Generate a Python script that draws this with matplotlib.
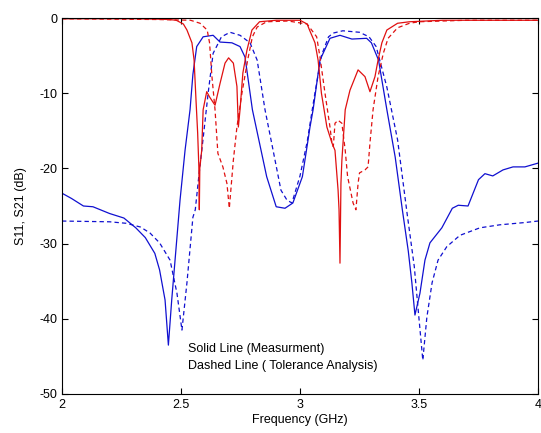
import matplotlib
matplotlib.use("Agg")
import matplotlib.pyplot as plt

plt.rcParams['font.family'] = ['Liberation Sans', 'DejaVu Sans']
plt.rcParams['axes.unicode_minus'] = False

# S21 measured (blue solid)
s21_meas_f = [2.00, 2.04, 2.09, 2.13, 2.20, 2.26, 2.31, 2.35, 2.39, 2.41, 2.433, 2.447,
              2.461, 2.475, 2.496, 2.517, 2.538, 2.55, 2.566, 2.593, 2.635, 2.664, 2.714,
              2.748, 2.769, 2.80, 2.86, 2.90, 2.937, 2.97, 3.01, 3.03, 3.042, 3.055, 3.084,
              3.126, 3.168, 3.218, 3.28, 3.30, 3.33, 3.365, 3.40, 3.43, 3.455, 3.47, 3.483,
              3.504, 3.525, 3.546, 3.596, 3.64, 3.665, 3.706, 3.75, 3.777, 3.81, 3.853,
              3.895, 3.945, 4.00]
s21_meas_db = [-23.3, -24.0, -25.0, -25.1, -26.0, -26.6, -27.9, -29.2, -31.3, -33.5, -37.5, -43.5,
               -37.5, -32.2, -24.2, -17.6, -12.2, -7.5, -3.8, -2.5, -2.3, -3.2, -3.3,
               -3.8, -5.2, -12.2, -21.1, -25.1, -25.3, -24.6, -21.1, -17.0, -14.5, -12.2, -5.6,
               -2.7, -2.3, -2.8, -2.7, -3.3, -5.6, -12.2, -18.5, -25.5, -31.0, -35.2, -39.5,
               -36.6, -32.2, -29.9, -27.9, -25.3, -24.9, -25.0, -21.5, -20.7, -21.0, -20.2,
               -19.8, -19.8, -19.3]

# S21 tolerance analysis (blue dashed)
s21_sim_f = [2.00, 2.20, 2.27, 2.33, 2.37, 2.41, 2.454, 2.483, 2.504, 2.525, 2.55, 2.56,
             2.575, 2.593, 2.614, 2.635, 2.67, 2.706, 2.748, 2.79, 2.82, 2.853, 2.887, 2.92,
             2.945, 2.966, 3.00, 3.03, 3.06, 3.09, 3.12, 3.14, 3.18, 3.25, 3.29, 3.32, 3.365,
             3.41, 3.45, 3.48, 3.50, 3.516, 3.533, 3.555, 3.58, 3.617, 3.672, 3.756, 3.84,
             3.945, 4.00]
s21_sim_db = [-27.0, -27.1, -27.3, -27.8, -28.6, -29.9, -32.2, -36.6, -41.5, -35.2, -26.5, -25.5,
              -21.0, -16.0, -10.0, -4.7, -2.5, -1.9, -2.3, -3.3, -5.6, -12.2, -17.6, -22.9,
              -24.2, -24.6, -21.0, -16.5, -10.5, -5.0, -2.5, -2.0, -1.7, -1.9, -2.5, -3.8, -9.2,
              -16.2, -26.0, -33.0, -40.0, -45.5, -39.8, -35.2, -32.2, -30.4, -28.9, -27.9, -27.5,
              -27.2, -27.0]

# S11 measured (red solid)
s11_meas_f = [2.00, 2.30, 2.40, 2.45, 2.48, 2.51, 2.525, 2.546, 2.555, 2.563, 2.57, 2.575,
              2.577, 2.579, 2.587, 2.593, 2.608, 2.62, 2.643, 2.664, 2.685, 2.70, 2.72, 2.735,
              2.741, 2.748, 2.76, 2.777, 2.798, 2.83, 2.90, 3.00, 3.03, 3.04, 3.063, 3.076,
              3.09, 3.113, 3.134, 3.147, 3.16, 3.164, 3.168, 3.172, 3.176, 3.19, 3.21, 3.244,
              3.273, 3.294, 3.315, 3.328, 3.344, 3.365, 3.41, 3.46, 3.60, 4.00]
s11_meas_db = [-0.1, -0.1, -0.15, -0.2, -0.3, -0.8, -1.6, -3.3, -5.6, -10.9, -15.3, -19.8,
               -25.5, -20.0, -17.6, -12.2, -9.8, -10.5, -11.6, -8.7, -6.0, -5.3, -6.0, -9.1,
               -14.5, -12.2, -7.3, -4.3, -1.6, -0.5, -0.3, -0.3, -0.8, -1.6, -3.3, -5.6,
               -10.0, -14.5, -16.6, -17.6, -22.9, -25.5, -32.6, -22.0, -18.9, -12.2, -9.6, -6.9,
               -7.8, -9.8, -7.8, -5.6, -3.3, -1.6, -0.7, -0.5, -0.3, -0.3]

# S11 tolerance analysis (red dashed)
s11_sim_f = [2.00, 2.40, 2.54, 2.58, 2.61, 2.62, 2.63, 2.643, 2.655, 2.676, 2.693, 2.703,
             2.72, 2.735, 2.756, 2.78, 2.80, 2.82, 2.86, 2.95, 3.03, 3.07, 3.084, 3.105,
             3.126, 3.134, 3.14, 3.147, 3.16, 3.176, 3.19, 3.20, 3.223, 3.235, 3.244, 3.25,
             3.273, 3.286, 3.294, 3.307, 3.328, 3.35, 3.37, 3.41, 3.46, 3.50, 3.70, 4.00]
s11_sim_db = [-0.1, -0.2, -0.3, -0.7, -1.6, -3.3, -7.8, -12.2, -18.0, -19.8, -22.0, -25.3,
              -18.9, -14.5, -10.0, -5.6, -2.5, -1.2, -0.5, -0.4, -0.8, -2.5, -5.2, -10.0,
              -14.5, -16.6, -17.1, -14.0, -13.6, -14.0, -17.6, -21.1, -24.6, -25.5, -22.0, -20.6,
              -20.2, -19.8, -16.6, -12.2, -7.8, -4.7, -2.7, -1.3, -0.7, -0.5, -0.3, -0.3]

x_ticks = [2, 2.5, 3, 3.5, 4]
x_tick_labels = ['2', '2.5', '3', '3.5', '4']
y_ticks = [0, -10, -20, -30, -40, -50]

fig = plt.figure(figsize=(5.41, 4.33), dpi=100)
ax = fig.add_axes([62 / 541, 1 - 394 / 433, 476 / 541, 376 / 433])

dash = (0, (3.5, 2.5))
ax.plot(s21_meas_f, s21_meas_db, color='#1010d0', lw=0.9)
ax.plot(s21_sim_f, s21_sim_db, color='#1010d0', lw=0.9, linestyle=dash)
ax.plot(s11_meas_f, s11_meas_db, color='#e01010', lw=0.9)
ax.plot(s11_sim_f, s11_sim_db, color='#e01010', lw=0.9, linestyle=dash)

ax.text(2.53, -44.0, 'Solid Line (Measurment)', fontsize=9, va='center')
ax.text(2.53, -46.3, 'Dashed Line ( Tolerance Analysis)', fontsize=9, va='center')

ax.set_xlim(2, 4)
ax.set_ylim(-50, 0)
ax.set_xticks(x_ticks)
ax.set_xticklabels(x_tick_labels)
ax.set_yticks(y_ticks)
ax.tick_params(direction='in', top=True, right=True, labelsize=9, length=4, width=0.8)
for s in ax.spines.values():
    s.set_linewidth(0.8)
ax.set_xlabel('Frequency (GHz)', fontsize=9, labelpad=2)
ax.set_ylabel('S11, S21 (dB)', fontsize=9, labelpad=9)

fig.savefig('out.png', dpi=100)
